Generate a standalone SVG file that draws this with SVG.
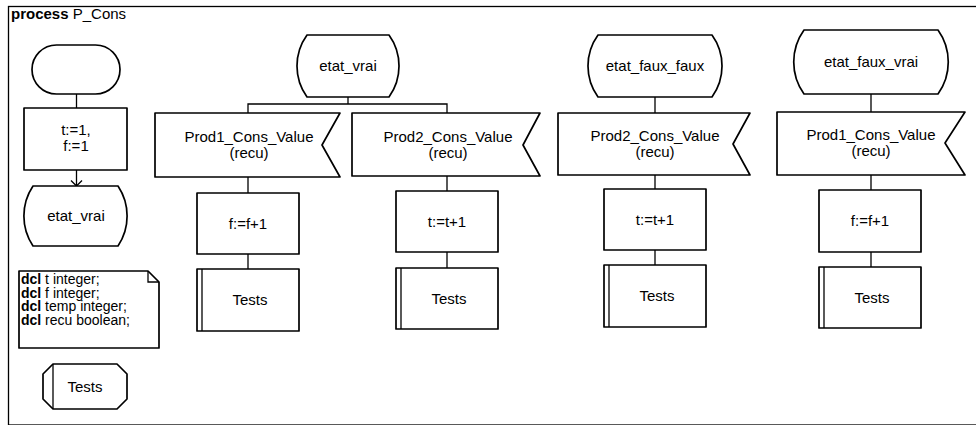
<svg xmlns="http://www.w3.org/2000/svg" width="976" height="425" viewBox="0 0 976 425">
<style>
.s{fill:#fff;stroke:#000;stroke-width:1.7;stroke-linejoin:round}
.c{fill:none;stroke:#000;stroke-width:1.3}
text{font-family:"Liberation Sans",Arial,sans-serif;font-size:15px;fill:#000}
.d{font-size:14px}
.m{text-anchor:middle}
.b{font-weight:bold}
</style>
<rect x="0" y="0" width="976" height="425" fill="#fff"/>
<rect id="frame" x="8.5" y="6.5" width="980" height="418.5" fill="none" stroke="#000" stroke-width="1.3"/>
<text x="11" y="19"><tspan class="b">process</tspan> P_Cons</text>

<g id="connectors">
<path class="c" d="M76.5,94V108"/>
<path class="c" d="M76.5,170V186M71,180.5L76.5,186L82,180.5"/>
<path class="c" d="M348,97V104M248,113V104H447V113"/>
<path class="c" d="M248,177V193M248,254V269"/>
<path class="c" d="M447,176V191M447,252V268"/>
<path class="c" d="M655,97V113M655,175V189M655,250V265"/>
<path class="c" d="M871,94V112M871,175V190M871,252V267"/>
</g>

<g id="start">
<rect class="s" x="32" y="45" width="88" height="49" rx="24.5"/>
</g>
<g id="init">
<rect class="s" x="24" y="108" width="103" height="62"/>
<text class="m" x="76" y="135">t:=1,</text>
<text class="m" x="76" y="151">f:=1</text>
</g>
<g id="state0">
<path class="s" d="M33,186H118A54,54 0 0 1 118,246H33A54,54 0 0 1 33,186Z"/>
<text class="m" x="76" y="221">etat_vrai</text>
</g>
<g id="dcl">
<path class="s" d="M19,271H148L159,282V348H19Z"/>
<path class="c" d="M148,271V282H159"/>
<text class="d" x="21" y="284"><tspan class="b">dcl</tspan> t integer;</text>
<text class="d" x="21" y="297.5"><tspan class="b">dcl</tspan> f integer;</text>
<text class="d" x="21" y="311"><tspan class="b">dcl</tspan> temp integer;</text>
<text class="d" x="21" y="324.5"><tspan class="b">dcl</tspan> recu boolean;</text>
</g>
<g id="procref">
<path class="s" d="M53,364H117L127,374V399L117,409H53L43,399V374Z"/>
<path class="c" d="M53,364V409"/>
<text class="m" x="85" y="392">Tests</text>
</g>

<g id="state1">
<path class="s" d="M307,35H389A53,53 0 0 1 389,97H307A53,53 0 0 1 307,35Z"/>
<text class="m" x="348" y="71">etat_vrai</text>
</g>
<g id="in1">
<path class="s" d="M155,113H340L322,145L340,177H155Z"/>
<text class="m" x="249" y="142">Prod1_Cons_Value</text>
<text class="m" x="249" y="158">(recu)</text>
</g>
<g id="task1">
<rect class="s" x="197" y="193" width="102" height="61"/>
<text class="m" x="248" y="229">f:=f+1</text>
</g>
<g id="call1">
<rect class="s" x="197" y="269" width="102" height="62"/>
<path class="c" d="M202,269V331"/>
<text class="m" x="250" y="305">Tests</text>
</g>

<g id="in2">
<path class="s" d="M352,113H540L523,145L540,176H352Z"/>
<text class="m" x="448" y="142">Prod2_Cons_Value</text>
<text class="m" x="448" y="158">(recu)</text>
</g>
<g id="task2">
<rect class="s" x="396" y="191" width="102" height="61"/>
<text class="m" x="447" y="227">t:=t+1</text>
</g>
<g id="call2">
<rect class="s" x="396" y="268" width="102" height="61"/>
<path class="c" d="M401,268V329"/>
<text class="m" x="449" y="304">Tests</text>
</g>

<g id="state3">
<path class="s" d="M598,35H712A53,53 0 0 1 712,97H598A53,53 0 0 1 598,35Z"/>
<text class="m" x="655" y="71">etat_faux_faux</text>
</g>
<g id="in3">
<path class="s" d="M558,113H750L733,144L750,175H558Z"/>
<text class="m" x="655" y="141">Prod2_Cons_Value</text>
<text class="m" x="655" y="157">(recu)</text>
</g>
<g id="task3">
<rect class="s" x="604" y="189" width="102" height="61"/>
<text class="m" x="655" y="225">t:=t+1</text>
</g>
<g id="call3">
<rect class="s" x="604" y="265" width="102" height="62"/>
<path class="c" d="M609,265V327"/>
<text class="m" x="657" y="301">Tests</text>
</g>

<g id="state4">
<path class="s" d="M804,30H938A55,55 0 0 1 938,94H804A55,55 0 0 1 804,30Z"/>
<text class="m" x="871" y="67">etat_faux_vrai</text>
</g>
<g id="in4">
<path class="s" d="M777,112H965L945,143L965,175H777Z"/>
<text class="m" x="871" y="140">Prod1_Cons_Value</text>
<text class="m" x="871" y="156">(recu)</text>
</g>
<g id="task4">
<rect class="s" x="819" y="190" width="102" height="62"/>
<text class="m" x="870" y="226">f:=f+1</text>
</g>
<g id="call4">
<rect class="s" x="819" y="267" width="102" height="61"/>
<path class="c" d="M824,267V328"/>
<text class="m" x="872" y="303">Tests</text>
</g>
</svg>
